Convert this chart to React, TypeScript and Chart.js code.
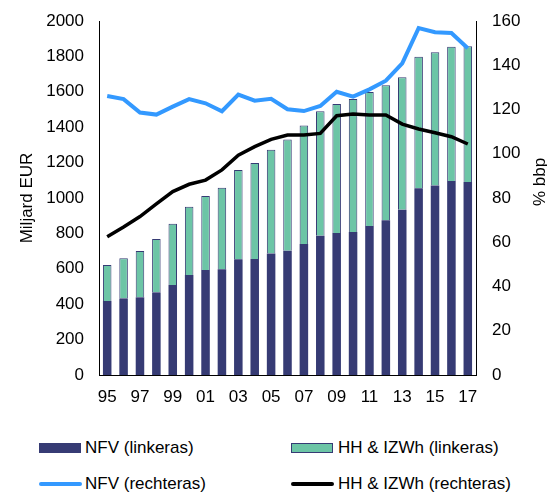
import React, { useEffect, useRef } from "react";
import { Chart, registerables } from "chart.js";

Chart.register(...registerables);

// ---- data ----
const years = ["95","96","97","98","99","00","01","02","03","04","05","06","07","08","09","10","11","12","13","14","15","16","17"];
// Miljard EUR (left axis)
const nfvEur = [418,433,439,467,508,565,593,597,654,655,687,702,740,787,802,808,842,874,934,1055,1070,1096,1090];
const hhEur = [203,226,261,301,347,386,419,461,504,543,586,629,669,703,729,751,757,763,748,743,753,759,767];
// % bbp (right axis)
const nfvPct = [126.1,124.7,118.6,117.7,121.3,124.7,122.8,119.2,126.7,124.0,124.8,120.1,119.3,121.6,128.0,125.8,129.1,133.0,140.9,156.8,154.9,154.6,147.7];
const hhPct = [62.5,66.9,71.6,77.3,82.9,86.2,88.1,92.7,99.4,103.2,106.5,108.5,108.5,109.2,117.2,118.0,117.5,117.5,113.4,111.2,109.5,107.7,104.4];

const seriesLabels = ["NFV (linkeras)", "HH & IZWh (linkeras)", "NFV (rechteras)", "HH & IZWh (rechteras)"];
const leftTitle = "Miljard EUR";
const rightTitle = "% bbp";

const NAVY = "#363B74";
const TEAL = "#6CC5A6";
const BLUE = "#3399FF";
const BLACK = "#000000";
const FONT = 'Arial, "Liberation Sans", sans-serif';

const rightTitlePlugin = {
  id: "rightTitle",
  afterDraw(chart: any) {
    const s = chart.scales.y1;
    const ctx = chart.ctx;
    ctx.save();
    ctx.font = `17px ${FONT}`;
    ctx.fillStyle = "#000";
    ctx.textAlign = "center";
    ctx.textBaseline = "middle";
    ctx.translate(s.right - 15, (chart.chartArea.top + chart.chartArea.bottom) / 2 - 16);
    ctx.rotate(-Math.PI / 2);
    ctx.fillText(rightTitle, 0, 0);
    ctx.restore();
  },
};

const legendItems = [
  { label: seriesLabels[0], kind: "box", fill: NAVY, border: NAVY },
  { label: seriesLabels[1], kind: "box", fill: TEAL, border: NAVY },
  { label: seriesLabels[2], kind: "line", fill: BLUE, border: BLUE },
  { label: seriesLabels[3], kind: "line", fill: BLACK, border: BLACK },
];

export default function App() {
  const ref = useRef<HTMLCanvasElement>(null);

  useEffect(() => {
    document.body.style.marginBottom = "0px";
    const tickFont = { family: FONT, size: 17 };
    const plain = (v: any) => String(v);
    const chart = new Chart(ref.current!, {
      type: "bar",
      data: {
        labels: years,
        datasets: [
          {
            type: "bar",
            label: seriesLabels[0],
            data: nfvEur,
            backgroundColor: NAVY,
            borderColor: NAVY,
            borderWidth: 0,
            yAxisID: "y",
            order: 1,
            barPercentage: 0.52,
            categoryPercentage: 1,
          },
          {
            type: "bar",
            label: seriesLabels[1],
            data: hhEur,
            backgroundColor: TEAL,
            borderColor: NAVY,
            borderWidth: 1,
            yAxisID: "y",
            order: 1,
            barPercentage: 0.52,
            categoryPercentage: 1,
          },
          {
            type: "line",
            label: seriesLabels[2],
            data: nfvPct,
            borderColor: BLUE,
            backgroundColor: BLUE,
            borderWidth: 4,
            pointRadius: 0,
            tension: 0,
            yAxisID: "y1",
            order: 0,
          },
          {
            type: "line",
            label: seriesLabels[3],
            data: hhPct,
            borderColor: BLACK,
            backgroundColor: BLACK,
            borderWidth: 3.5,
            pointRadius: 0,
            tension: 0,
            yAxisID: "y1",
            order: 0,
          },
        ],
      },
      options: {
        responsive: false,
        animation: false,
        layout: { padding: { top: 13, left: 0, right: 0, bottom: 0 } },
        plugins: {
          legend: { display: false },
          tooltip: { enabled: false },
        },
        scales: {
          x: {
            stacked: true,
            offset: true,
            grid: { display: false, drawTicks: false },
            border: { display: true, color: "#000", width: 1 },
            ticks: {
              color: "#000",
              font: tickFont,
              padding: 12,
              autoSkip: false,
              maxRotation: 0,
              callback: (_v: any, i: number) => (i % 2 === 0 ? years[i] : ""),
            },
            afterFit: (s: any) => { s.height = 48; },
          },
          y: {
            stacked: true,
            position: "left",
            min: 0,
            max: 2000,
            grid: { display: false, drawTicks: true, tickLength: 15 },
            border: { display: true, color: "#000", width: 1 },
            ticks: { stepSize: 200, color: "#000", font: tickFont, padding: 0, callback: plain },
            title: {
              display: true,
              text: leftTitle,
              color: "#000",
              font: { family: FONT, size: 17 },
              padding: { top: 9, bottom: 0 },
            },
            afterFit: (s: any) => { s.width = 91; },
          },
          y1: {
            stacked: false,
            position: "right",
            min: 0,
            max: 160,
            grid: { display: false, drawTicks: true, tickLength: 16 },
            border: { display: true, color: "#000", width: 1 },
            ticks: { stepSize: 20, color: "#000", font: tickFont, padding: 0, callback: plain },
            afterFit: (s: any) => { s.width = 79; },
          },
        },
      } as any,
      plugins: [rightTitlePlugin],
    } as any);
    return () => chart.destroy();
  }, []);

  return (
    <div style={{ position: "relative", width: 547, height: 487, fontFamily: FONT }}>
      <canvas ref={ref} width={547} height={415} style={{ display: "block", position: "absolute", left: 0, top: 0 }} />
      {legendItems.map((it, i) => {
        const col = i % 2;
        const row = Math.floor(i / 2);
        const cy = row === 0 ? 440 : 476;
        const sx = col === 0 ? 31 : 283;
        const tx = col === 0 ? 77 : 330;
        return (
          <React.Fragment key={it.label}>
            {it.kind === "box" ? (
              <div
                style={{
                  position: "absolute",
                  left: sx,
                  top: cy - 5,
                  width: 42,
                  height: 10,
                  boxSizing: "border-box",
                  background: it.fill,
                  border: `1.5px solid ${it.border}`,
                }}
              />
            ) : (
              <div
                style={{
                  position: "absolute",
                  left: sx,
                  top: cy - 2,
                  width: 43,
                  height: 4,
                  borderRadius: 2,
                  background: it.fill,
                }}
              />
            )}
            <div
              style={{
                position: "absolute",
                left: tx,
                top: cy - 9,
                height: 18,
                lineHeight: "18px",
                fontSize: 17,
                color: "#000",
                whiteSpace: "nowrap",
              }}
            >
              {it.label}
            </div>
          </React.Fragment>
        );
      })}
    </div>
  );
}
